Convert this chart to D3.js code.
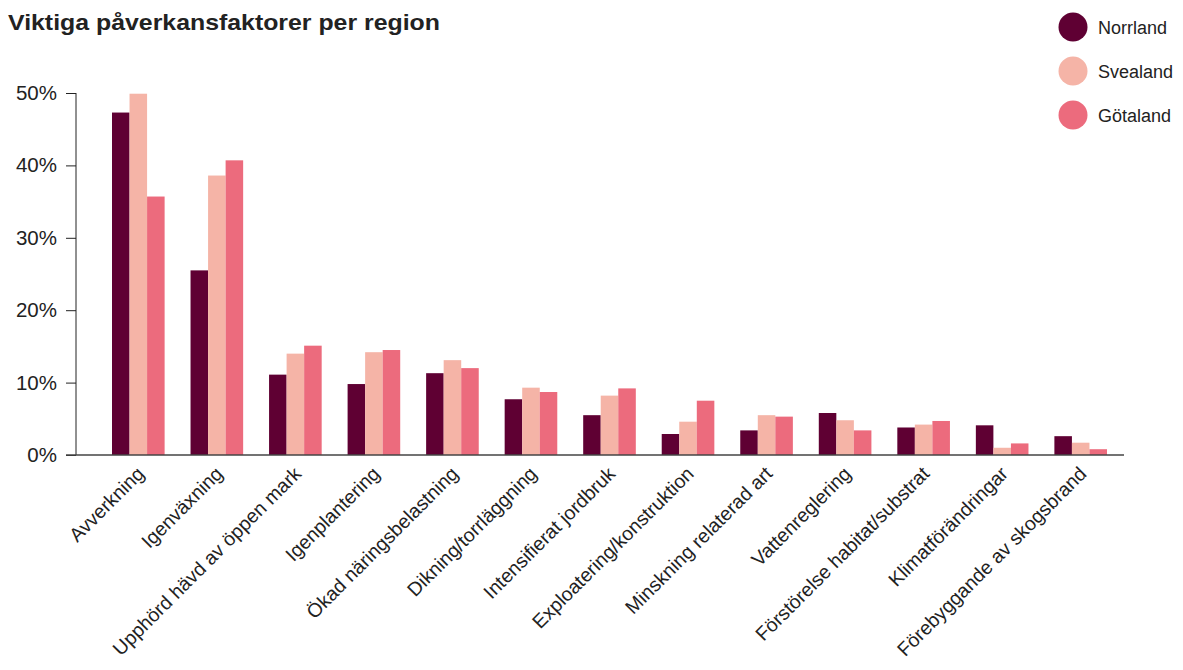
<!DOCTYPE html>
<html>
<head>
<meta charset="utf-8">
<script src="https://cdn.jsdelivr.net/npm/d3@7"></script>
<style>
  body { margin: 0; background: #fff; }
  svg { font-family: "Liberation Sans", Arial, sans-serif; }
</style>
</head>
<body>
<svg id="chart"></svg>
<script>
const categories = ["Avverkning", "Igenväxning", "Upphörd hävd av öppen mark", "Igenplantering",
  "Ökad näringsbelastning", "Dikning/torrläggning", "Intensifierat jordbruk",
  "Exploatering/konstruktion", "Minskning relaterad art", "Vattenreglering",
  "Förstörelse habitat/substrat", "Klimatförändringar", "Förebyggande av skogsbrand"];
const regions = ["Norrland", "Svealand", "Götaland"];
const norrland = [47.3, 25.5, 11.1, 9.8, 11.3, 7.7, 5.5, 2.9, 3.4, 5.8, 3.8, 4.1, 2.6];
const svealand = [49.9, 38.6, 14.0, 14.2, 13.1, 9.3, 8.2, 4.6, 5.5, 4.8, 4.2, 1.0, 1.7];
const gotaland = [35.7, 40.7, 15.1, 14.5, 12.0, 8.7, 9.2, 7.5, 5.3, 3.4, 4.7, 1.6, 0.8];
const yTicks = [0, 10, 20, 30, 40, 50];
const colors = ["#5f0033", "#f5b4a7", "#ec6b7d"];

const series = [norrland, svealand, gotaland];
const width = 1183, height = 670;
const svg = d3.select("#chart").attr("width", width).attr("height", height);

const x = d3.scaleBand().domain(categories).range([112, 1107]).paddingInner(0.33).paddingOuter(0);
const xs = d3.scaleBand().domain(regions).range([0, x.bandwidth()]);
const y = d3.scaleLinear().domain([0, 50]).range([455, 93]);

// title
svg.append("text")
  .attr("x", 8).attr("y", 30)
  .attr("font-size", 22).attr("font-weight", "bold").attr("fill", "#222")
  .attr("textLength", 432).attr("lengthAdjust", "spacingAndGlyphs")
  .text("Viktiga påverkansfaktorer per region");

// bars
const groups = svg.append("g").selectAll("g")
  .data(categories)
  .join("g")
  .attr("transform", d => `translate(${x(d)},0)`);

groups.selectAll("rect")
  .data((d, i) => regions.map((r, j) => ({ r, v: series[j][i], c: colors[j] })))
  .join("rect")
  .attr("x", d => xs(d.r))
  .attr("width", xs.bandwidth())
  .attr("y", d => y(d.v))
  .attr("height", d => y(0) - y(d.v))
  .attr("fill", d => d.c);

// y axis
const yAxis = svg.append("g")
  .attr("transform", "translate(76,0)")
  .call(d3.axisLeft(y).tickValues(yTicks).tickFormat(d => d + "%").tickSize(10).tickPadding(9));
yAxis.select(".domain").attr("stroke", "#222").attr("d", `M0,${y(50)}V${y(0)}`);
yAxis.selectAll(".tick line").attr("stroke", "#222");
yAxis.selectAll(".tick text").attr("font-size", 20.5).attr("fill", "#222")
  .attr("font-family", "Liberation Sans, Arial, sans-serif");

// x axis line
svg.append("line")
  .attr("x1", 66).attr("x2", 1124)
  .attr("y1", y(0)).attr("y2", y(0))
  .attr("stroke", "#444").attr("stroke-width", 1.5);

// x labels
svg.append("g").selectAll("text")
  .data(categories)
  .join("text")
  .attr("transform", d => `translate(${x(d) + x.bandwidth() / 2 + 7},${y(0) + 20}) rotate(-45)`)
  .attr("text-anchor", "end")
  .attr("font-size", 19.5)
  .attr("fill", "#222")
  .text(d => d);

// legend
const legend = svg.append("g").selectAll("g")
  .data(regions)
  .join("g")
  .attr("transform", (d, i) => `translate(1073,${27 + i * 44})`);
legend.append("circle").attr("r", 14.5).attr("fill", (d, i) => colors[i]);
legend.append("text")
  .attr("x", 25).attr("y", 6.5)
  .attr("font-size", 18).attr("fill", "#222")
  .text(d => d);
</script>
</body>
</html>
